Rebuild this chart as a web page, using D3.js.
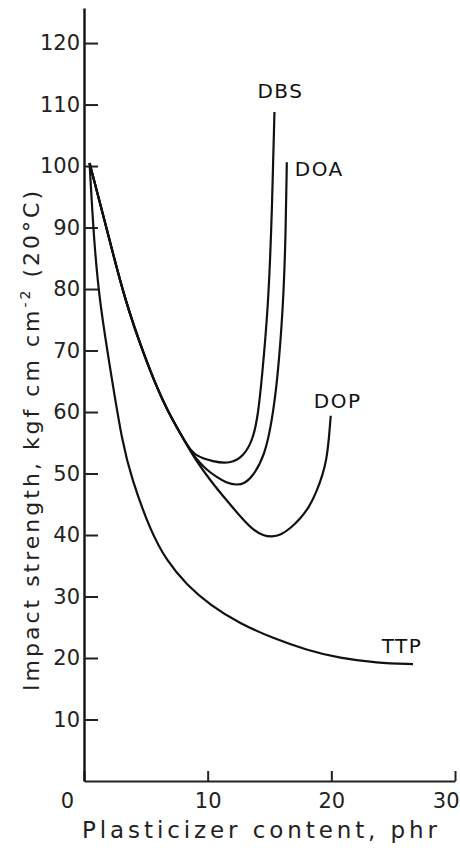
<!DOCTYPE html>
<html>
<head>
<meta charset="utf-8">
<script src="https://cdn.jsdelivr.net/npm/d3@7"></script>
<style>
  body { margin: 0; background: #fff; }
  svg { display: block; font-family: "DejaVu Sans", sans-serif; }
</style>
</head>
<body>
<div id="chart"></div>
<script>
// Données (phr, kgf cm cm-2)
const xTicks = [0, 10, 20, 30];
const yTicks = [10, 20, 30, 40, 50, 60, 70, 80, 90, 100, 110, 120];

// partie commune DBS / DOA / DOP
const shared = [[0.45, 100.5], [1.9, 89.3], [3.3, 78.2], [4.9, 69], [6.0, 63.5], [6.7, 60.5], [7.5, 57.5], [8.4, 54.4]];
const dbs = [[8.97, 52.9], [10.45, 51.9], [11.8, 51.6], [12.88, 52.7], [13.69, 55.6], [14.09, 59.8], [14.37, 65.2], [14.9, 77], [15.2, 92.4], [15.4, 108.8]];
const doa = [[8.97, 52.6], [9.8, 50.8], [10.73, 49.4], [11.5, 48.5], [12.34, 48.1], [13.0, 48.4], [13.69, 49.6], [14.63, 53.1], [15.17, 58.2], [15.65, 65.2], [16.1, 77], [16.3, 88], [16.4, 100.6]];
const dop = [[8.97, 52.4], [10.2, 48.9], [11.5, 45.7], [12.9, 42.4], [13.7, 40.8], [14.5, 39.9], [15.2, 39.7], [15.9, 40.0], [16.7, 41.1], [17.5, 42.7], [18.2, 44.5], [18.8, 47], [19.3, 49.8], [19.6, 52.2], [19.8, 55.5], [19.95, 59.4]];
const ttp = [[0.45, 100.5], [0.8, 88], [1.25, 78], [2.2, 66], [3.1, 55], [3.85, 49.2], [5.34, 40.8], [6.68, 35.8], [8.3, 31.9], [10.2, 28.6], [12.6, 25.6], [15.3, 23.2], [18.0, 21.3], [20.7, 19.95], [23.66, 19.2], [26.6, 19.0]];

const seriesNames = ["DBS", "DOA", "DOP", "TTP"];
const seriesData = [shared.concat(dbs), shared.concat(doa), shared.concat(dop), ttp];

// Dimensions
const width = 460, height = 848;

const svg = d3.select('#chart')
    .append('svg')
    .attr('width', width)
    .attr('height', height);

const x = d3.scaleLinear()
    .domain([0, 30])
    .range([84, 455]);

const y = d3.scaleLinear()
    .domain([0, 125.7])
    .range([781, 8]);

// Axe X
const xAxis = svg.append('g')
    .attr('transform', 'translate(0,' + y(0) + ')')
    .call(d3.axisBottom(x)
        .tickValues(xTicks)
        .tickSizeInner(-10)
        .tickSizeOuter(0)
        .tickPadding(12));

xAxis.select('.domain').attr('stroke', '#222').attr('stroke-width', 2);
xAxis.selectAll('.tick line').attr('stroke', '#222').attr('stroke-width', 2);
xAxis.selectAll('.tick text')
    .attr('font-size', 21)
    .attr('fill', '#222')
    .attr('font-family', '"DejaVu Sans", sans-serif')
    .attr('dx', d => d === 0 ? -17 : 0)
    .attr('text-anchor', d => d === 30 ? 'end' : 'middle')
    .attr('x', d => d === 30 ? 4 : 0);

// Axe Y
const yAxis = svg.append('g')
    .attr('transform', 'translate(' + x(0) + ',0)')
    .call(d3.axisLeft(y)
        .tickValues(yTicks)
        .tickSizeInner(-14)
        .tickSizeOuter(0)
        .tickPadding(4));

yAxis.select('.domain').attr('stroke', '#111').attr('stroke-width', 2.4);
yAxis.selectAll('.tick line').attr('stroke', '#222').attr('stroke-width', 2);
yAxis.selectAll('.tick text')
    .attr('font-size', 21)
    .attr('fill', '#222')
    .attr('font-family', '"DejaVu Sans", sans-serif');

// Courbes (lissage basis pour des tracés réguliers)
const line = d3.line()
    .x(d => x(d[0]))
    .y(d => y(d[1]))
    .curve(d3.curveBasis);

svg.append('g')
    .selectAll('path')
    .data(seriesData)
    .join('path')
    .attr('d', line)
    .attr('fill', 'none')
    .attr('stroke', '#111')
    .attr('stroke-width', 2.2);

// Étiquettes des courbes (décalage depuis le dernier point)
const labelOffset = {
    DBS: [6, -14, 'middle'],
    DOA: [8, 14, 'start'],
    DOP: [7, -8, 'middle'],
    TTP: [-11, -11, 'middle']
};

svg.append('g')
    .selectAll('text')
    .data(seriesNames)
    .join('text')
    .attr('x', (d, i) => x(seriesData[i][seriesData[i].length - 1][0]) + labelOffset[d][0])
    .attr('y', (d, i) => y(seriesData[i][seriesData[i].length - 1][1]) + labelOffset[d][1])
    .attr('text-anchor', d => labelOffset[d][2])
    .attr('font-size', 20)
    .attr('letter-spacing', 1.5)
    .attr('fill', '#111')
    .text(d => d);

// Titre axe X
svg.append('text')
    .attr('x', 82)
    .attr('y', 838)
    .attr('font-size', 23)
    .attr('fill', '#222')
    .attr('textLength', 355)
    .attr('lengthAdjust', 'spacing')
    .text('Plasticizer content, phr');

// Titre axe Y
const yTitle = svg.append('text')
    .attr('transform', 'translate(39,441) rotate(-90)')
    .attr('text-anchor', 'middle')
    .attr('font-size', 22)
    .attr('fill', '#222')
    .attr('textLength', 500)
    .attr('lengthAdjust', 'spacing');

yTitle.append('tspan').text('Impact strength, kgf cm cm');
yTitle.append('tspan').attr('font-size', 14).attr('dy', -9).text('-2');
yTitle.append('tspan').attr('dy', 9).text(' (20°C)');
</script>
</body>
</html>
